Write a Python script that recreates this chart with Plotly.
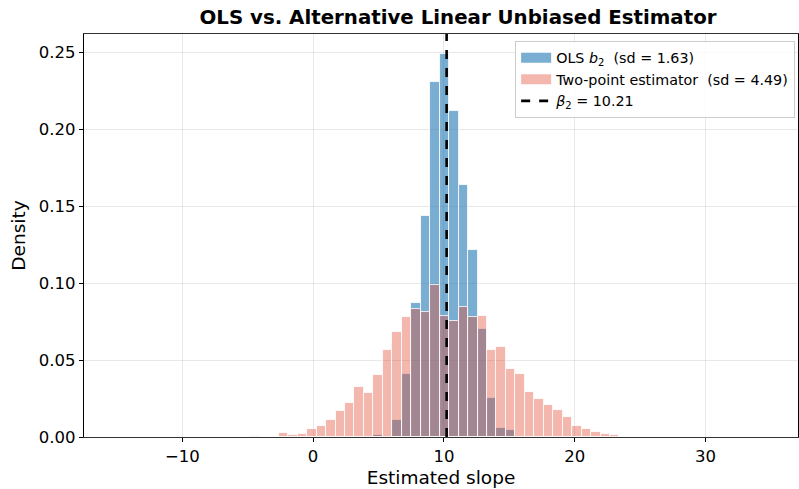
import plotly.graph_objects as go

# Histogram bins shared by both estimators (left edge of first bin, common width)
BIN_START = -4.795
BIN_WIDTH = 0.7236

# Density of the OLS slope estimates b2, per bin
ols_density = [
    0, 0, 0, 0, 0, 0, 0, 0, 0, 0,
    0, 0, 0, 0.0015, 0.0008, 0.0108, 0.0412, 0.0870, 0.1436, 0.2305,
    0.2488, 0.2122, 0.1640, 0.1215, 0.0705, 0.0254, 0.0061, 0.0043, 0, 0,
    0, 0, 0, 0, 0, 0, 0, 0, 0,
]

# Density of the two-point estimator, per bin
two_point_density = [
    0.0007, 0, 0, 0.0026, 0.0013, 0.0020, 0.0054, 0.0069, 0.0110, 0.0167,
    0.0221, 0.0323, 0.0289, 0.0401, 0.0568, 0.0683, 0.0780, 0.0834, 0.0815, 0.0985,
    0.0789, 0.0754, 0.0845, 0.0777, 0.0787, 0.0566, 0.0586, 0.0441, 0.0408, 0.0290,
    0.0246, 0.0211, 0.0174, 0.0130, 0.0069, 0.0050, 0.0035, 0.0017, 0.0015,
]

OLS_SD = 1.63
TWO_POINT_SD = 4.49
BETA2 = 10.21

X_RANGE = [-17.52, 37.08]
Y_RANGE = [0, 0.262]
x_ticks = [-10, 0, 10, 20, 30]
y_ticks = [0.00, 0.05, 0.10, 0.15, 0.20, 0.25]

centers = [BIN_START + (i + 0.5) * BIN_WIDTH for i in range(len(two_point_density))]

FONT = "DejaVu Sans"
OLS_COLOR = "rgba(31,119,180,0.6)"
TWO_POINT_COLOR = "rgba(226,74,51,0.4)"
EDGE = dict(color="rgba(255,255,255,0.9)", width=0.9)

ols_label = f"OLS <i>b</i><sub>2</sub>\u00a0 (sd = {OLS_SD:.2f})"
two_point_label = f"Two-point estimator\u00a0 (sd = {TWO_POINT_SD:.2f})"

fig = go.Figure()

fig.add_trace(go.Bar(
    x=centers, y=ols_density, width=BIN_WIDTH,
    name=ols_label, legendgroup="ols", showlegend=False,
    marker=dict(color=OLS_COLOR, line=EDGE),
))

fig.add_trace(go.Bar(
    x=centers, y=two_point_density, width=BIN_WIDTH,
    name=two_point_label, legendgroup="two", showlegend=False,
    marker=dict(color=TWO_POINT_COLOR, line=EDGE),
))

fig.add_trace(go.Scatter(
    x=[BETA2, BETA2], y=Y_RANGE, mode="lines",
    line=dict(color="black", width=2.6, dash="dash"),
    name=f"<i>β</i><sub>2</sub> = {BETA2:.2f}",
    legendrank=3,
))

# Wide patch-style legend keys for the two histograms
fig.add_trace(go.Scatter(
    x=[None], y=[None], mode="lines", name=ols_label, legendgroup="ols",
    line=dict(color=OLS_COLOR, width=10), legendrank=1,
))
fig.add_trace(go.Scatter(
    x=[None], y=[None], mode="lines", name=two_point_label, legendgroup="two",
    line=dict(color=TWO_POINT_COLOR, width=10), legendrank=2,
))

fig.update_layout(
    width=799,
    height=489,
    margin=dict(l=84, r=1, t=34, b=52),
    paper_bgcolor="white",
    plot_bgcolor="white",
    barmode="overlay",
    bargap=0,
    font=dict(family=FONT, color="black"),
    title=dict(
        text="<b>OLS vs. Alternative Linear Unbiased Estimator</b>",
        x=458 / 799,
        xanchor="center",
        y=1 - 17 / 489,
        yanchor="middle",
        font=dict(family=FONT, size=19.8, color="black"),
    ),
    legend=dict(
        x=0.996,
        xanchor="right",
        y=0.983,
        yanchor="top",
        bgcolor="rgba(255,255,255,0.8)",
        bordercolor="#cccccc",
        borderwidth=1,
        font=dict(family=FONT, size=14.3, color="black"),
        tracegroupgap=0,
        traceorder="normal",
    ),
    showlegend=True,
)

fig.update_xaxes(
    range=X_RANGE,
    tickvals=x_ticks,
    tickfont=dict(family=FONT, size=16.5, color="black"),
    title=dict(text="Estimated slope", font=dict(family=FONT, size=18.5, color="black"), standoff=6),
    showgrid=True,
    gridcolor="rgba(0,0,0,0.09)",
    gridwidth=1,
    zeroline=False,
    showline=True,
    linecolor="#333333",
    linewidth=1.3,
    mirror=True,
    ticks="outside",
    ticklen=4,
    tickcolor="black",
)

fig.update_yaxes(
    range=Y_RANGE,
    tickvals=y_ticks,
    tickformat=".2f",
    tickfont=dict(family=FONT, size=16.5, color="black"),
    title=dict(text="Density", font=dict(family=FONT, size=18.5, color="black"), standoff=8),
    showgrid=True,
    gridcolor="rgba(0,0,0,0.09)",
    gridwidth=1,
    zeroline=False,
    showline=True,
    linecolor="black",
    linewidth=1.3,
    mirror=True,
    ticks="outside",
    ticklen=4,
    tickcolor="black",
)

fig.write_html("out.html")
